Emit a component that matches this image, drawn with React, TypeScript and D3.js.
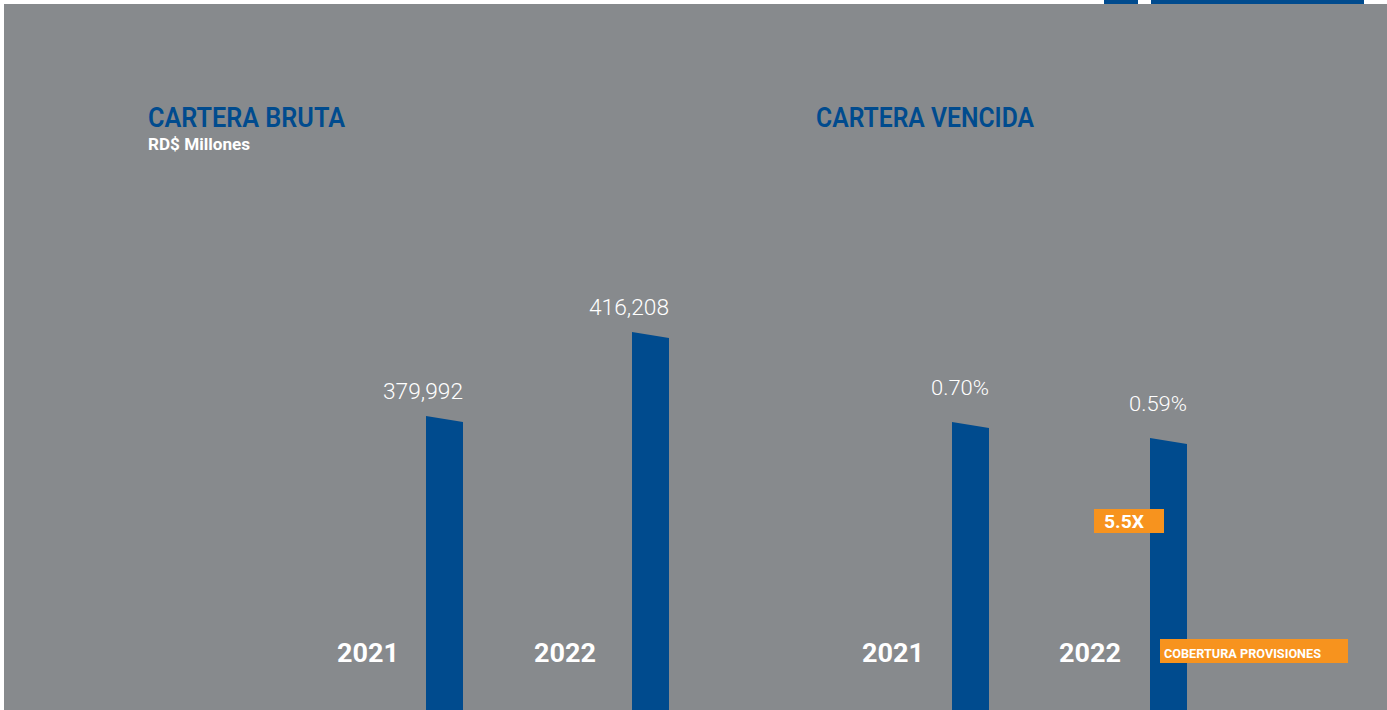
import React from "react";
import * as d3 from "d3";

const years = ["2021", "2022"];
const carteraBruta = [379992, 416208];
const carteraVencida = [0.7, 0.59];
const coberturaProvisiones = 5.5;

const W = 1387;
const H = 710;
const GRAY = "#878a8d";
const BLUE = "#004b8e";
const ORANGE = "#f7931e";
const FONT = "Roboto, 'Open Sans', sans-serif";

export default function App() {
  // Cartera bruta scales
  const xBruta = d3.scalePoint<string>().domain(years).range([426, 632]);
  const yearBruta = d3.scalePoint<string>().domain(years).range([368, 565]);
  const yBruta = d3.scaleLinear().domain([300000, 450000]).range([601.5, 253.6]);

  // Cartera vencida scales
  const xVenc = d3.scalePoint<string>().domain(years).range([952, 1150]);
  const yearVenc = d3.scalePoint<string>().domain(years).range([893, 1090]);
  const yVenc = d3.scaleLinear().domain([0, 1]).range([523.8, 378.3]);

  const barW = 37;
  const slant = 6;
  const bottom = H + 5;

  const barPath = (x: number, y: number) => {
    const p = d3.path();
    p.moveTo(x, y);
    p.lineTo(x + barW, y + slant);
    p.lineTo(x + barW, bottom);
    p.lineTo(x, bottom);
    p.closePath();
    return p.toString();
  };

  const fmtBruta = d3.format(",");
  const fmtVenc = (v: number) => d3.format(".2f")(v) + "%";

  return (
    <div style={{ position: "absolute", left: 0, top: 0 }}>
      <svg width={W} height={H} style={{ display: "block" }}>
        <rect x={0} y={0} width={W} height={H} fill="#ffffff" />
        <rect x={4} y={4} width={W - 4} height={H - 4} fill={GRAY} />
        {/* decorative top strip */}
        <rect x={1104} y={0} width={34} height={4} fill={BLUE} />
        <rect x={1151} y={0} width={213} height={4} fill={BLUE} />

        {/* Titles */}
        <text x={148} y={127} fill={BLUE} fontFamily={FONT} fontWeight={600} fontSize={27} textLength={197} lengthAdjust="spacingAndGlyphs">
          CARTERA BRUTA
        </text>
        <text x={148} y={150} fill="#ffffff" fontFamily={FONT} fontWeight={700} fontSize={16} textLength={102} lengthAdjust="spacingAndGlyphs">
          RD$ Millones
        </text>
        <text x={816} y={127} fill={BLUE} fontFamily={FONT} fontWeight={600} fontSize={27} textLength={218} lengthAdjust="spacingAndGlyphs">
          CARTERA VENCIDA
        </text>

        {/* Cartera bruta bars */}
        {years.map((yr, i) => {
          const x = xBruta(yr)!;
          const y = yBruta(carteraBruta[i]);
          return (
            <g key={"b" + yr}>
              <path d={barPath(x, y)} fill={BLUE} />
              <text x={x + barW} y={y - 17} textAnchor="end" fill="#ffffff" fontFamily={FONT} fontWeight={300} fontSize={22} textLength={80} lengthAdjust="spacingAndGlyphs">
                {fmtBruta(carteraBruta[i])}
              </text>
              <text x={yearBruta(yr)} y={662} textAnchor="middle" fill="#ffffff" fontFamily={FONT} fontWeight={700} fontSize={26} textLength={62} lengthAdjust="spacingAndGlyphs">
                {yr}
              </text>
            </g>
          );
        })}

        {/* Cartera vencida bars */}
        {years.map((yr, i) => {
          const x = xVenc(yr)!;
          const y = yVenc(carteraVencida[i]);
          return (
            <g key={"v" + yr}>
              <path d={barPath(x, y)} fill={BLUE} />
              <text x={x + barW} y={y - 26.5} textAnchor="end" fill="#ffffff" fontFamily={FONT} fontWeight={300} fontSize={21} textLength={58} lengthAdjust="spacingAndGlyphs">
                {fmtVenc(carteraVencida[i])}
              </text>
              <text x={yearVenc(yr)} y={662} textAnchor="middle" fill="#ffffff" fontFamily={FONT} fontWeight={700} fontSize={26} textLength={62} lengthAdjust="spacingAndGlyphs">
                {yr}
              </text>
            </g>
          );
        })}

        {/* Cobertura provisiones */}
        <rect x={1094} y={509} width={70} height={24} fill={ORANGE} />
        <text x={1104} y={528} fill="#ffffff" fontFamily={FONT} fontWeight={700} fontSize={18} textLength={40} lengthAdjust="spacingAndGlyphs">
          {d3.format(".1f")(coberturaProvisiones) + "X"}
        </text>
        <rect x={1160} y={639} width={188} height={24} fill={ORANGE} />
        <text x={1164} y={658} fill="#ffffff" fontFamily={FONT} fontWeight={700} fontSize={13.5} textLength={157} lengthAdjust="spacingAndGlyphs">
          COBERTURA PROVISIONES
        </text>
      </svg>
    </div>
  );
}
